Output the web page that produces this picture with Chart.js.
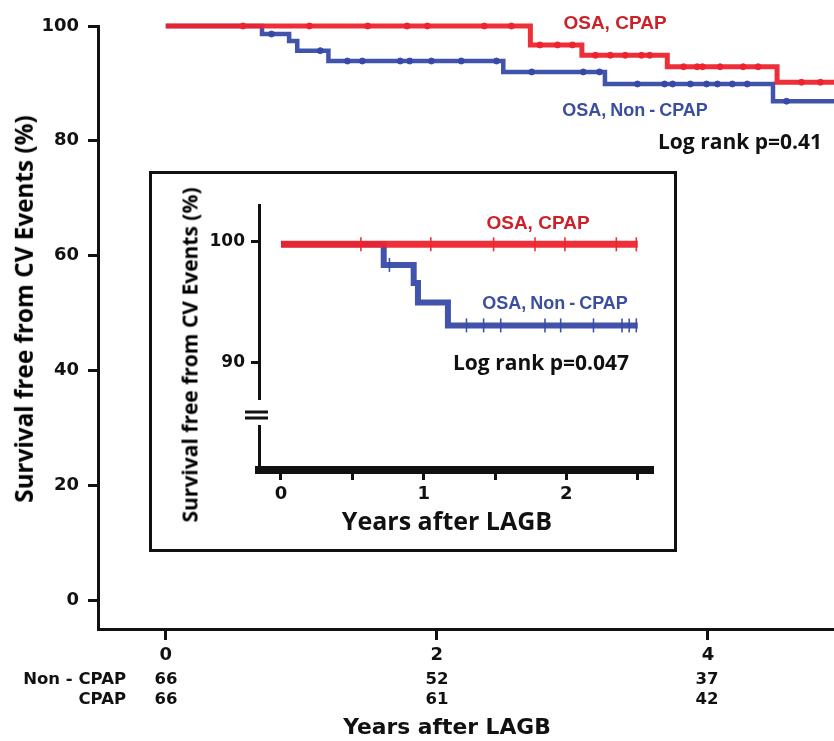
<!DOCTYPE html>
<html>
<head>
<meta charset="utf-8">
<script src="https://cdn.jsdelivr.net/npm/chart.js@4.4.1/dist/chart.umd.min.js"></script>
<style>
html,body{margin:0;padding:0;background:#fff;}
#wrap{position:relative;width:834px;height:741px;overflow:hidden;background:#fff;}
#main{position:absolute;left:0;top:0;}
#insetBox{position:absolute;left:149px;top:171px;width:522px;height:375px;border:3px solid #111;background:#fff;}
#inset{position:absolute;left:0;top:0;}
.t{position:absolute;white-space:nowrap;line-height:1;font-weight:bold;}
.c{transform:translate(-50%,-50%);}
.rot{transform:translate(-50%,-50%) rotate(-90deg);}
.os{font-family:"Open Sans",sans-serif;}
.ar{font-family:"Liberation Sans",Arial,sans-serif;}
.dj{font-family:"DejaVu Sans",sans-serif;}
.red{color:#cc2129;}
.blue{color:#3b4ea2;}
</style>
</head>
<body>
<div id="wrap">
  <canvas id="main" width="834" height="741"></canvas>

  <div class="t os rot" style="left:24px;top:309px;font-size:24.3px;">Survival free from CV Events (%)</div>
  <div class="t ar c red" style="left:615px;top:22px;font-size:19px;">OSA, CPAP</div>
  <div class="t ar c blue" style="left:635px;top:110px;font-size:18px;word-spacing:-1px;">OSA, Non - CPAP</div>
  <div class="t os c" style="left:740px;top:141px;font-size:21px;color:#111;">Log rank p=0.41</div>

  <div id="riskTable"></div>
  <div class="t dj c" style="left:447px;top:727px;font-size:21.8px;color:#111;">Years after LAGB</div>

  <div id="insetBox">
    <canvas id="inset" width="522" height="375"></canvas>
  </div>
  <div class="t os rot" style="left:190px;top:355px;font-size:21px;">Survival free from CV Events (%)</div>
  <div class="t ar c red" style="left:538px;top:222px;font-size:19px;">OSA, CPAP</div>
  <div class="t ar c blue" style="left:555px;top:303px;font-size:18px;word-spacing:-1px;">OSA, Non - CPAP</div>
  <div class="t os c" style="left:541px;top:362px;font-size:21px;color:#111;">Log rank p=0.047</div>
  <div class="t os c" style="left:447px;top:520px;font-size:25px;color:#111;">Years after LAGB</div>
</div>

<script>
// ---------------- DATA ----------------
// Main Kaplan-Meier curves (years after LAGB, % free from CV events)
const mainCpapTimes  = [0, 2.69, 3.07, 3.70, 4.51, 5.0];
const mainCpapSurv   = [100, 96.7, 94.9, 92.9, 90.2, 90.2];
const mainNonTimes   = [0, 0.71, 0.91, 0.97, 1.20, 2.49, 3.24, 4.48, 5.0];
const mainNonSurv    = [100, 98.6, 97.4, 95.7, 93.9, 92.0, 89.9, 86.9, 86.9];
// censoring marks (years)
const mainCpapCensor = [0.57, 1.06, 1.49, 1.78, 1.93, 2.35, 2.55, 2.76, 2.89, 3.00, 3.17, 3.28, 3.39, 3.51, 3.57, 3.82, 3.92, 3.96, 4.09, 4.26, 4.37, 4.69, 4.83];
const mainNonCensor  = [0.78, 1.14, 1.34, 1.45, 1.73, 1.80, 1.96, 2.18, 2.44, 2.70, 3.08, 3.20, 3.48, 3.68, 3.74, 3.87, 3.99, 4.07, 4.18, 4.29, 4.58];
const mainXTicks     = [0, 2, 4];
const mainYTicks     = [0, 20, 40, 60, 80, 100];
// numbers at risk
const riskRowLabels  = ["Non - CPAP", "CPAP"];
const nonCpapAtRisk  = [66, 52, 37];
const cpapAtRisk     = [66, 61, 42];

// Inset (zoomed first 2.5 years)
const insetCpapTimes  = [0, 2.5];
const insetCpapSurv   = [99.8, 99.8];
const insetNonTimes   = [0, 0.72, 0.93, 0.96, 1.17, 2.5];
const insetNonSurv    = [99.8, 98.1, 96.6, 95.0, 93.1, 93.1];
const insetCpapCensor = [0.56, 1.05, 1.49, 1.78, 1.99, 2.35, 2.49];
const insetNonCensor  = [0.76, 1.30, 1.42, 1.54, 1.85, 1.96, 2.19, 2.39, 2.44, 2.49];
const insetXTicks     = [0, 0.5, 1, 1.5, 2, 2.5];
const insetYTicks     = [90, 100];

// ---------------- HELPERS ----------------
const RED  = 'rgba(237,36,46,0.95)';
const BLUE = 'rgba(56,74,166,0.95)';
function curve(times, surv){ return times.map((t,i)=>({x:t, y:surv[i]})); }
function survAt(times, surv, t){ let v = surv[0]; for (let i=0;i<times.length;i++){ if (times[i] <= t) v = surv[i]; } return v; }
function censorPts(cens, times, surv){ return cens.map(t=>({x:t, y:survAt(times, surv, t)})); }

const tickFont = {family:'"DejaVu Sans", sans-serif', weight:'bold', size:18};

// ---------------- RISK TABLE (HTML text) ----------------
(function(){
  const rt = document.getElementById('riskTable');
  const xPix = [166, 437, 707];
  const rowsY = [679, 699];
  const rows = [nonCpapAtRisk, cpapAtRisk];
  rows.forEach((vals, r) => {
    const lab = document.createElement('div');
    lab.className = 't dj';
    lab.style.cssText = 'right:'+(834-126)+'px;top:'+rowsY[r]+'px;font-size:16.5px;color:#111;transform:translateY(-50%);';
    lab.textContent = riskRowLabels[r];
    rt.appendChild(lab);
    vals.forEach((v,i)=>{
      const d = document.createElement('div');
      d.className = 't dj c';
      d.style.cssText = 'left:'+xPix[i]+'px;top:'+rowsY[r]+'px;font-size:16.5px;color:#111;';
      d.textContent = v;
      rt.appendChild(d);
    });
  });
})();

// ---------------- MAIN CHART ----------------
new Chart(document.getElementById('main'), {
  type: 'scatter',
  data: {
    datasets: [
      {data: curve(mainCpapTimes, mainCpapSurv), showLine:true, stepped:true, borderColor:RED, borderWidth:5, pointRadius:0, clip:false},
      {data: censorPts(mainCpapCensor, mainCpapTimes, mainCpapSurv), showLine:false, pointRadius:3, pointStyle:'circle', backgroundColor:RED, borderColor:RED, borderWidth:1, clip:false},
      {data: curve(mainNonTimes, mainNonSurv), showLine:true, stepped:true, borderColor:BLUE, borderWidth:4.5, pointRadius:0, clip:false},
      {data: censorPts(mainNonCensor, mainNonTimes, mainNonSurv), showLine:false, pointRadius:3, pointStyle:'circle', backgroundColor:BLUE, borderColor:BLUE, borderWidth:1, clip:false}
    ]
  },
  options: {
    responsive:false, animation:false, events:[], devicePixelRatio:1,
    layout:{autoPadding:false, padding:{top:26, left:0, right:0, bottom:0}},
    plugins:{legend:{display:false}, tooltip:{enabled:false}},
    scales:{
      x:{type:'linear', min:-0.5, max:4.93,
         afterBuildTicks:(s)=>{ s.ticks = mainXTicks.map(v=>({value:v})); },
         afterFit:(s)=>{ s.height = 112; s.paddingLeft = 0; s.paddingRight = 0; },
         ticks:{font:tickFont, color:'#111', padding:5, maxRotation:0, autoSkip:false, callback:(v)=>String(v)},
         grid:{display:true, drawOnChartArea:false, drawTicks:true, tickLength:11, lineWidth:3, color:'#111'},
         border:{display:true, width:3, color:'#111'}},
      y:{type:'linear', min:-5.05, max:100,
         afterBuildTicks:(s)=>{ s.ticks = mainYTicks.map(v=>({value:v})); },
         afterFit:(s)=>{ s.width = 98; s.paddingTop = 0; s.paddingBottom = 0; },
         ticks:{font:tickFont, color:'#111', padding:9, autoSkip:false, callback:(v)=>String(v)},
         grid:{display:true, drawOnChartArea:false, drawTicks:true, tickLength:10, lineWidth:3, color:'#111'},
         border:{display:true, width:3, color:'#111'}}
    }
  }
});

// ---------------- INSET CHART ----------------
const axisBreak = {
  id:'axisBreak',
  afterDraw(chart){
    const {ctx, chartArea} = chart;
    const x = chartArea.left, b = chartArea.bottom;
    ctx.save();
    ctx.fillStyle = '#fff';
    ctx.fillRect(x-6, b-70, 12, 25);
    ctx.strokeStyle = '#111';
    ctx.lineWidth = 3;
    ctx.beginPath();
    ctx.moveTo(x-14, b-58); ctx.lineTo(x+9, b-58);
    ctx.moveTo(x-14, b-52); ctx.lineTo(x+9, b-52);
    ctx.stroke();
    ctx.restore();
  }
};

new Chart(document.getElementById('inset'), {
  type: 'scatter',
  data: {
    datasets: [
      {data: curve(insetCpapTimes, insetCpapSurv), showLine:true, stepped:true, borderColor:RED, borderWidth:7, pointRadius:0, clip:false},
      {data: censorPts(insetCpapCensor, insetCpapTimes, insetCpapSurv), showLine:false, pointRadius:7, pointStyle:'line', rotation:90, borderColor:RED, borderWidth:1.6, clip:false},
      {data: curve(insetNonTimes, insetNonSurv), showLine:true, stepped:true, borderColor:BLUE, borderWidth:6, pointRadius:0, clip:false},
      {data: censorPts(insetNonCensor, insetNonTimes, insetNonSurv), showLine:false, pointRadius:7, pointStyle:'line', rotation:90, borderColor:BLUE, borderWidth:1.6, clip:false}
    ]
  },
  options: {
    responsive:false, animation:false, events:[], devicePixelRatio:1,
    layout:{autoPadding:false, padding:{top:31, left:0, right:22, bottom:0}},
    plugins:{legend:{display:false}, tooltip:{enabled:false}},
    scales:{
      x:{type:'linear', min:-0.154, max:2.6,
         afterBuildTicks:(s)=>{ s.ticks = insetXTicks.map(v=>({value:v})); },
         afterFit:(s)=>{ s.height = 79; s.paddingLeft = 0; s.paddingRight = 0; },
         ticks:{font:tickFont, color:'#111', padding:4, maxRotation:0, autoSkip:false, callback:(v)=> Number.isInteger(v) ? String(v) : ''},
         grid:{display:true, drawOnChartArea:false, drawTicks:true, tickLength:10, lineWidth:3, color:'#111'},
         border:{display:true, width:8, color:'#111'}},
      y:{type:'linear', min:81.15, max:103.05,
         afterBuildTicks:(s)=>{ s.ticks = insetYTicks.map(v=>({value:v})); },
         afterFit:(s)=>{ s.width = 107; s.paddingTop = 0; s.paddingBottom = 0; },
         ticks:{font:{family:'"DejaVu Sans", sans-serif', weight:'bold', size:17}, color:'#111', padding:6, autoSkip:false, callback:(v)=>String(v)},
         grid:{display:true, drawOnChartArea:false, drawTicks:true, tickLength:8, lineWidth:3, color:'#111'},
         border:{display:true, width:3, color:'#111'}}
    }
  },
  plugins:[axisBreak]
});
</script>
</body>
</html>
